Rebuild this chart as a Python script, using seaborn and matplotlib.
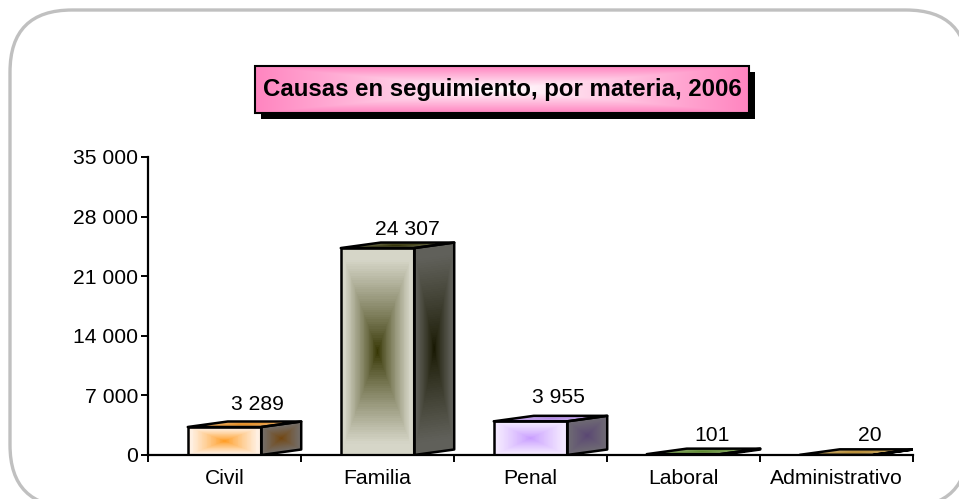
import numpy as np
import pandas as pd
import matplotlib
matplotlib.use("Agg")
import matplotlib.pyplot as plt
from matplotlib.patches import FancyBboxPatch, Polygon, Rectangle
import seaborn as sns

categories = ["Civil", "Familia", "Penal", "Laboral", "Administrativo"]
values = [3289, 24307, 3955, 101, 20]
value_labels = ["3 289", "24 307", "3 955", "101", "20"]
y_ticks = [0, 7000, 14000, 21000, 28000, 35000]
y_tick_labels = ["0", "7 000", "14 000", "21 000", "28 000", "35 000"]
title = "Causas en seguimiento, por materia, 2006"
centre_colours = ["#ff9a1e", "#333300", "#c79bff", "#669933", "#cc9933"]
edge_colours = ["#fff0e2", "#d6d6c8", "#f3e8ff", "#e0ecd0", "#f5ebd0"]

W, H = 959, 499
FS = 15.2
sns.set_theme(style="white")
plt.rcParams["font.family"] = ["Liberation Sans", "DejaVu Sans"]
fig = plt.figure(figsize=(W / 100, H / 100), dpi=100)

bg = fig.add_axes([0, 0, 1, 1], zorder=0)
bg.set_xlim(0, W); bg.set_ylim(H, 0); bg.axis("off")
bg.add_patch(FancyBboxPatch((10, 10), 958, 497, boxstyle="round,pad=0,rounding_size=62",
                            fc="white", ec="#c0c0c0", lw=2.4))

L, R, T, B = 148, 913, 157, 455
ax = fig.add_axes([L / W, 1 - B / H, (R - L) / W, (B - T) / H], zorder=1)
ax.patch.set_alpha(0)
df = pd.DataFrame({"pos": np.arange(len(categories)), "val": values})
sns.barplot(data=df, x="pos", y="val", ax=ax, width=0.48, fill=False, color="black",
            linewidth=1.8, err_kws={"linewidth": 0}, zorder=5, native_scale=True)
ax.set_xlim(-0.5, 4.5); ax.set_ylim(0, 35000)
ax.set_xlabel(""); ax.set_ylabel("")
ax.set_yticks(y_ticks, y_tick_labels, fontsize=FS, color="black")
ax.set_xticks(np.arange(len(categories)), categories, fontsize=FS, color="black")
ax.set_xticks(np.arange(len(categories) + 1) - 0.5, minor=True)
ax.tick_params(axis="x", which="major", length=0, pad=10)
ax.tick_params(axis="x", which="minor", length=5, width=1.4, color="black", bottom=True, direction="out")
ax.tick_params(axis="y", length=5, width=1.4, color="black", left=True, direction="out", pad=2)
for s in ("top", "right"):
    ax.spines[s].set_visible(False)
for s in ("left", "bottom"):
    ax.spines[s].set_color("black"); ax.spines[s].set_linewidth(1.6)
    ax.spines[s].set_zorder(6)

def rgb(c):
    return np.array(matplotlib.colors.to_rgb(c))

def rect_grad(c0, c1, n=90, gamma=0.85, shade=1.0):
    u = np.linspace(-1, 1, n)
    uu, vv = np.meshgrid(u, u)
    t = np.clip(np.maximum(np.abs(uu), np.abs(vv)) / 0.9, 0, 1) ** gamma
    return ((1 - t[..., None]) * c0 + t[..., None] * c1) * shade

depth_x = 40 / 153
depth_y = 5.5 / 298 * 35000
n = 90
for i, p in enumerate(ax.patches[:len(values)]):
    x0, w, h = p.get_x(), p.get_width(), p.get_height()
    c0, c1 = rgb(centre_colours[i]), rgb(edge_colours[i])
    s = np.linspace(0, 1, n + 1)
    # front
    X, Y = np.meshgrid(x0 + s * w, s * h)
    ax.pcolormesh(X, Y, rect_grad(c0, c1, n), shading="flat", zorder=2)
    # side
    X = x0 + w + s[None, :] * depth_x * np.ones((n + 1, 1))
    Y = s[:, None] * h + s[None, :] * depth_y
    ax.pcolormesh(X, Y, rect_grad(c0, c1, n, shade=0.45), shading="flat", zorder=2)
    # top
    X = x0 + s[None, :] * w + s[:, None] * depth_x
    Y = h + s[:, None] * depth_y * np.ones((1, n + 1))
    ax.pcolormesh(X, Y, rect_grad(c0, 0.6 * c0 + 0.4 * c1, n, shade=0.9), shading="flat", zorder=2)
    ax.add_patch(Polygon([(x0 + w, 0), (x0 + w + depth_x, depth_y), (x0 + w + depth_x, h + depth_y),
                          (x0 + w, h)], closed=True, fill=False, ec="black", lw=1.8, zorder=5, joinstyle="round"))
    ax.add_patch(Polygon([(x0, h), (x0 + depth_x, h + depth_y), (x0 + w + depth_x, h + depth_y),
                          (x0 + w, h)], closed=True, fill=False, ec="black", lw=1.8, zorder=5, joinstyle="round"))
ax.set_xlim(-0.5, 4.5); ax.set_ylim(0, 35000)

label_dx = [32.5, 29.5, 28, 28.5, 33]
label_dy = [22, 19, 24, 19, 19]
for i, lab in enumerate(value_labels):
    ax.annotate(lab, (i, values[i]), xytext=(label_dx[i] * 0.72, label_dy[i] * 0.72),
                textcoords="offset points", ha="center", va="center", fontsize=FS, color="black", zorder=7)

# title box
tx0, ty0, tx1, ty1 = 255, 66, 749, 113
bg2 = fig.add_axes([0, 0, 1, 1], zorder=2)
bg2.axis("off"); bg2.patch.set_alpha(0)
bg2.add_patch(Rectangle((tx0 + 6, ty0 + 6), tx1 - tx0, ty1 - ty0, fc="black", ec="none"))
u = np.linspace(-1, 1, 240)
v = np.linspace(-1, 1, 60)
uu, vv = np.meshgrid(u, v)
t = np.maximum(np.abs(uu), np.abs(vv))[..., None]
img = (1 - t) * rgb("#ffffff") + t * rgb("#ff85c0")
bg2.imshow(img, extent=(tx0, tx1, ty1, ty0), aspect="auto", zorder=1, interpolation="bilinear")
bg2.set_xlim(0, W); bg2.set_ylim(H, 0)
bg2.add_patch(Rectangle((tx0, ty0), tx1 - tx0, ty1 - ty0, fc="none", ec="black", lw=1.5, zorder=2))
bg2.text((tx0 + tx1) / 2, (ty0 + ty1) / 2 - 0.5, title, ha="center", va="center",
         fontsize=17.3, fontweight="bold", color="black", zorder=3)

fig.savefig("out.png", dpi=100)
